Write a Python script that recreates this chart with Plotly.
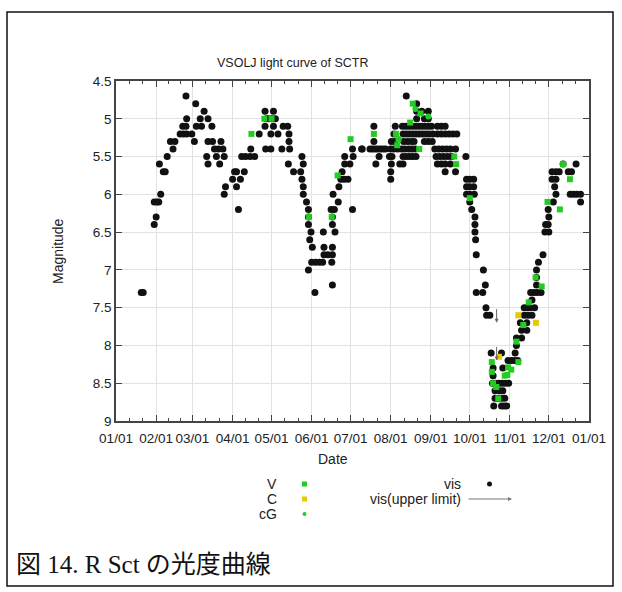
import plotly.graph_objects as go

# ---------------- data ----------------
month_starts = [0, 31, 59, 90, 120, 151, 181, 212, 243, 273, 304, 334, 365]
month_labels = ["01/01", "02/01", "03/01", "04/01", "05/01", "06/01", "07/01",
                "08/01", "09/01", "10/01", "11/01", "12/01", "01/01"]
mag_ticks = [4.5, 5, 5.5, 6, 6.5, 7, 7.5, 8, 8.5, 9]
mag_labels = ["4.5", "5", "5.5", "6", "6.5", "7", "7.5", "8", "8.5", "9"]

# visual observations (day of year, magnitude)
vis_obs = [
    (19.5, 7.3), (21, 7.3),
    (29.5, 6.4), (31, 6.3), (29.5, 6.1), (31.5, 6.1), (33, 6.1), (34.5, 6.0), (33.5, 5.6),
    (36.5, 5.7), (38, 5.7), (39.5, 5.5), (42, 5.3), (45.5, 5.3), (44, 5.4),
    (49.5, 5.2), (52, 5.2), (54.5, 5.2), (58.5, 5.2), (51.5, 5.1), (54, 5.1), (54.5, 5.0),
    (54, 4.7), (60.5, 5.3), (61.5, 4.8), (62, 5.1), (66, 5.1), (65, 5.0), (68, 4.9), (71, 5.0),
    (74, 5.1), (71, 5.3), (74.5, 5.3), (70, 5.5), (71, 5.6), (76, 5.4), (79, 5.4), (82.5, 5.4),
    (81, 5.3), (77.5, 5.5), (83.5, 5.5), (80, 5.6), (84.5, 5.9), (83.5, 6.0),
    (90, 5.8), (91.5, 5.7), (93, 5.7), (93, 5.9), (96, 5.8), (94.5, 6.2), (99, 5.7), (97, 5.5),
    (100, 5.5), (103.5, 5.5), (107, 5.5), (104, 5.4), (110.5, 5.2),
    (115, 4.9), (121.5, 4.9), (116, 5.0), (118, 5.0), (120.5, 5.0), (123, 5.0), (115, 5.1),
    (121.5, 5.1), (129, 5.1), (132.5, 5.1), (119.5, 5.2), (125, 5.2), (133.5, 5.2), (133.5, 5.3),
    (115.5, 5.4), (119.5, 5.4), (128, 5.4), (134, 5.4), (133, 5.6), (137, 5.7), (143.5, 5.5),
    (144.5, 5.6), (142.5, 5.7), (143.5, 5.8), (144.5, 5.9), (144.5, 6.0), (147, 6.1), (148.5, 6.2),
    (148.5, 6.3), (148.5, 6.4), (150.5, 6.5), (149.5, 6.6), (151.5, 6.7), (148.5, 7.0),
    (151, 6.9), (154, 6.9), (157, 6.9), (159.5, 6.9), (166.5, 6.9), (153.5, 7.3), (160, 6.5),
    (160.5, 6.7), (167, 6.7), (160.5, 6.8), (163.5, 6.8), (167, 6.8), (167, 7.2), (166, 6.2),
    (168.5, 6.2), (167, 6.3), (167, 6.4), (169, 6.5), (167.5, 6.0), (171.5, 6.1), (172, 5.9),
    (173.5, 5.8), (176, 5.8), (179, 5.8), (174.5, 5.7), (176.5, 5.6), (180.5, 5.6), (176.5, 5.5),
    (183, 5.5), (182.5, 5.4), (190, 5.4), (182.5, 6.2),
    (189.5, 5.4), (196, 5.4), (198, 5.4), (200, 5.4), (202, 5.4), (204, 5.4), (206, 5.4), (208, 5.4),
    (199, 5.1), (199, 5.3), (203, 5.5), (200.5, 5.6), (212, 5.4), (214.5, 5.4), (217.5, 5.4),
    (212.5, 5.3), (215, 5.3), (214.5, 5.2), (211, 5.5), (213, 5.5), (212.5, 5.6), (219, 5.6),
    (212, 5.7), (212, 5.8),
    (221.5, 5.5), (224, 5.5), (226.5, 5.5), (229, 5.5), (231.5, 5.5), (221.5, 5.6),
    (220.5, 5.4), (223, 5.4), (226, 5.4), (228.5, 5.4), (231, 5.4),
    (222, 5.3), (225, 5.3), (228, 5.3), (230, 5.3), (238, 5.3), (241, 5.3), (244, 5.3),
    (221.5, 5.2), (224, 5.2), (226.5, 5.2), (229, 5.2), (231.5, 5.2), (234, 5.2), (236.5, 5.2),
    (239, 5.2), (241.5, 5.2), (244.5, 5.2),
    (215.5, 5.1), (221, 5.1), (223.5, 5.1), (226, 5.1), (228.5, 5.1), (231, 5.1), (233.5, 5.1),
    (236, 5.1), (238.5, 5.1), (241, 5.1), (243.5, 5.1),
    (232, 5.0), (238, 5.0), (241, 5.0), (232, 4.9), (236, 4.9), (241, 4.9), (232, 4.8), (224, 4.7),
    (248, 5.1), (251, 5.1), (254, 5.1),
    (248, 5.2), (251, 5.2), (254, 5.2), (257, 5.2), (260, 5.2), (263, 5.2),
    (246, 5.4), (249, 5.4), (252, 5.4), (255, 5.4), (258, 5.4), (262, 5.4),
    (247, 5.5), (250, 5.5), (253, 5.5), (256, 5.5), (259, 5.5), (270, 5.5),
    (248, 5.6), (251, 5.6), (254, 5.6), (258, 5.6), (254, 5.7), (262, 5.7),
    (270.5, 5.8), (273, 5.8), (276, 5.8), (270.5, 5.9), (273, 5.9), (276, 5.9), (270.5, 6.0),
    (273, 6.0), (276.5, 6.0), (273, 6.1), (274.5, 6.2), (277, 6.3), (277, 6.4), (277, 6.5),
    (277.5, 6.6), (278, 6.8), (283.5, 7.0), (285, 7.2), (278, 7.3), (283, 7.3), (285.5, 7.5),
    (286, 7.6), (288.5, 7.6),
    (289.5, 8.1), (297.5, 8.1), (291, 8.3), (298.5, 8.3), (291, 8.4),
    (290.5, 8.5), (293, 8.5), (295.5, 8.5), (298, 8.5), (300.5, 8.5), (303, 8.5),
    (292.5, 8.6), (296, 8.6), (298.5, 8.6),
    (292.5, 8.7), (295, 8.7), (297.5, 8.7), (300, 8.7),
    (291.5, 8.8), (297.5, 8.8), (299.5, 8.8), (301.5, 8.8),
    (302.5, 8.2), (305, 8.2), (307.5, 8.2), (310, 8.2),
    (308, 8.1), (309, 8.0), (309, 7.9), (313, 7.9), (313, 7.8), (317, 7.8), (312, 7.7), (317, 7.7),
    (315, 7.6), (318, 7.6), (321, 7.6), (315, 7.5), (317, 7.5), (319.5, 7.5), (323, 7.5), (321, 7.4),
    (320, 7.3), (322.5, 7.3), (325, 7.3), (328, 7.3),
    (324.5, 7.2), (324.5, 7.1), (324.5, 7.0), (326, 6.9), (329.5, 6.8),
    (331, 6.5), (334, 6.5), (331.5, 6.4), (333.5, 6.4), (334, 6.3), (333.5, 6.2), (337.5, 6.1),
    (339.5, 6.0), (338.5, 5.9), (336.5, 5.8), (339.5, 5.8),
    (336.5, 5.7), (339.5, 5.7), (342, 5.7), (349, 5.7), (351.5, 5.7), (345, 5.6), (355, 5.6),
    (350.5, 6.0), (353, 6.0), (355.5, 6.0), (358.5, 6.0), (358.5, 6.1),
]
vis_day = [d for d, m in vis_obs]
vis_mag = [m for d, m in vis_obs]

# V (green squares)
v_day = [104.5, 114.5, 120, 148.8, 166.5, 171, 181, 199, 216, 218, 217, 227, 229, 235, 234,
         261, 262.5, 273, 290, 290, 291, 293.5, 295, 300, 302, 302.6, 305, 310.5, 309, 314.3,
         318.5, 323.8, 328.5, 333, 342.5, 345, 350.3]
v_mag = [5.2, 5.0, 5.0, 6.3, 6.3, 5.75, 5.27, 5.2, 5.2, 5.27, 5.35, 5.05, 4.8, 4.93, 5.4,
         5.5, 5.6, 6.05, 8.22, 8.35, 8.5, 8.55, 8.7, 8.4, 8.39, 8.29, 8.32, 8.22, 7.95, 7.73,
         7.43, 7.1, 7.22, 6.1, 6.2, 5.6, 5.8]
# C (yellow squares)
c_day = [295.5, 310.5, 324]
c_mag = [8.15, 7.6, 7.7]
# cG (green dots)
cg_day = [231, 241]
cg_mag = [4.87, 4.97]
# vis upper limits
ul_day = [293.7, 293.7]
ul_mag = [7.5, 8.0]

# ---------------- layout helpers ----------------
W, H = 622, 592
P_L, P_R, P_T, P_B = 116, 589, 81, 421


def px(x):
    return (x - P_L) / (P_R - P_L)


def py(y):
    return (P_B - y) / (P_B - P_T)


FONT = "Liberation Sans, Arial, sans-serif"
GREEN = "#22cc22"
YELLOW = "#e8c800"

fig = go.Figure()
fig.add_trace(go.Scatter(x=vis_day, y=vis_mag, mode="markers", name="vis",
                         marker=dict(color="#111111", size=7, symbol="circle")))
fig.add_trace(go.Scatter(x=v_day, y=v_mag, mode="markers", name="V",
                         marker=dict(color=GREEN, size=6, symbol="square")))
fig.add_trace(go.Scatter(x=c_day, y=c_mag, mode="markers", name="C",
                         marker=dict(color=YELLOW, size=6, symbol="square")))
fig.add_trace(go.Scatter(x=cg_day, y=cg_mag, mode="markers", name="cG",
                         marker=dict(color=GREEN, size=6, symbol="circle")))

annotations = []
for d, m in zip(ul_day, ul_mag):
    annotations.append(dict(x=d, y=m + 0.2, ax=d, ay=m, xref="x", yref="y",
                            axref="x", ayref="y", text="", showarrow=True,
                            arrowhead=2, arrowsize=0.8, arrowwidth=1,
                            arrowcolor="#666666"))


def txt(text, x, y, anchor="center", size=14, **kw):
    d = dict(text=text, x=px(x), y=py(y), xref="paper", yref="paper",
             showarrow=False, xanchor=anchor, yanchor="middle",
             font=dict(family=FONT, size=size, color="#222222"))
    d.update(kw)
    return d


annotations += [
    txt("VSOLJ light curve of SCTR", 292, 63, size=12.5),
    txt("Date", 333, 459),
    txt("Magnitude", 58, 251, textangle=-90),
    txt("V", 279, 484, anchor="right"),
    txt("C", 279, 499, anchor="right"),
    txt("cG", 279, 514, anchor="right"),
    txt("vis", 463, 484, anchor="right"),
    txt("vis(upper limit)", 463, 499, anchor="right"),
    dict(text="図 14. R Sct の光度曲線", x=px(14), y=py(564), xref="paper", yref="paper",
         showarrow=False, xanchor="left", yanchor="middle",
         font=dict(family="Liberation Serif, Noto Sans CJK JP, serif", size=25, color="#111111")),
    dict(text="", x=px(512), y=py(499), ax=-45, ay=0, xref="paper", yref="paper",
         showarrow=True, arrowhead=2, arrowsize=0.8, arrowwidth=1, arrowcolor="#777777"),
]

shapes = [
    dict(type="rect", xref="paper", yref="paper", x0=px(7), x1=px(613), y0=py(586), y1=py(12),
         line=dict(color="#111111", width=1.5)),
    dict(type="rect", xref="paper", yref="paper", x0=px(302), x1=px(307), y0=py(486.5), y1=py(481.5),
         fillcolor=GREEN, line=dict(width=0)),
    dict(type="rect", xref="paper", yref="paper", x0=px(302), x1=px(307), y0=py(501.5), y1=py(496.5),
         fillcolor=YELLOW, line=dict(width=0)),
    dict(type="circle", xref="paper", yref="paper", x0=px(302.5), x1=px(306.5), y0=py(516), y1=py(512),
         fillcolor=GREEN, line=dict(width=0)),
    dict(type="circle", xref="paper", yref="paper", x0=px(487), x1=px(492), y0=py(486.5), y1=py(481.5),
         fillcolor="#111111", line=dict(width=0)),
]

minor_vals = []
for a, b in zip(month_starts[:-1], month_starts[1:]):
    minor_vals += [a + (b - a) / 3, a + 2 * (b - a) / 3]

fig.update_layout(
    width=W, height=H,
    margin=dict(l=P_L, r=W - P_R, t=P_T, b=H - P_B),
    paper_bgcolor="white", plot_bgcolor="white",
    showlegend=False,
    annotations=annotations,
    shapes=shapes,
    xaxis=dict(range=[0, 365], tickmode="array", tickvals=month_starts, ticktext=month_labels,
               tickangle=0, ticklabelstandoff=4,
               ticks="inside", ticklen=6, tickcolor="#444444", mirror="allticks",
               showline=True, linecolor="#444444", linewidth=1.5,
               showgrid=True, gridcolor="#e2e2e2", gridwidth=1, zeroline=False,
               tickfont=dict(family=FONT, size=13.5, color="#222222"),
               minor=dict(tickmode="array", tickvals=minor_vals, ticks="inside", ticklen=3,
                          tickcolor="#444444", showgrid=False)),
    yaxis=dict(range=[9, 4.5], tickmode="array", tickvals=mag_ticks, ticktext=mag_labels,
               ticks="inside", ticklen=6, tickcolor="#444444", mirror="allticks",
               showline=True, linecolor="#444444", linewidth=1.5,
               showgrid=True, gridcolor="#e2e2e2", gridwidth=1, zeroline=False,
               tickfont=dict(family=FONT, size=13.5, color="#222222")),
)

fig.write_html("out.html")
